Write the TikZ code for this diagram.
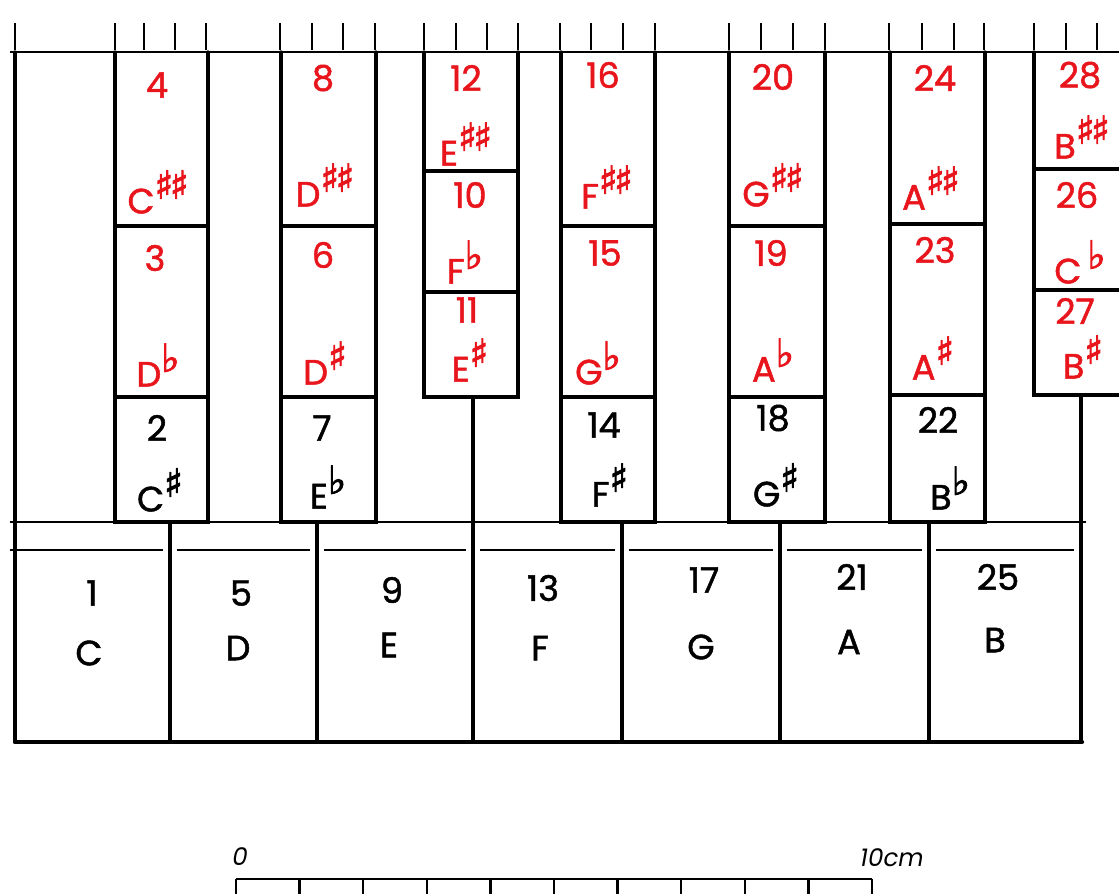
\documentclass[tikz,border=0pt]{standalone}
\usepackage{fontspec}
\setmainfont{Poppins}
\newfontfamily\notefont[FakeBold=1.4]{Poppins}
\newfontfamily\accfont[FakeBold=2.5]{DejaVu Sans}
\usetikzlibrary{positioning}
\definecolor{notered}{RGB}{232,22,28}
\newcommand{\acc}[1]{\raisebox{0.42em}{\accfont\fontsize{22}{22}\selectfont #1}}
\newcommand{\shp}{\acc{♯}}
\newcommand{\dshp}{\acc{♯\kern-2pt♯}}
\newcommand{\flt}{\acc{♭}}

\begin{document}
\begin{tikzpicture}[x=0.02cm,y=-0.02cm,
  keyline/.style={line width=1.9pt,line cap=round},
  thinline/.style={line width=1.1pt},
  tickline/.style={line width=1.4pt},
  rednote/.style={text=notered,inner sep=0pt,font=\notefont\fontsize{20}{20}\selectfont},
  blacknote/.style={text=black,inner sep=0pt,font=\notefont\fontsize{20}{20}\selectfont},
  scalelbl/.style={inner sep=0pt,font=\fontsize{14}{14}\selectfont\itshape}]
  \useasboundingbox (0,0) rectangle (1119,893);
  % top ruler
  \draw[tickline] (10,52) -- (1125,52);
  \foreach \x in {15,115,144,175,206,280,312,343,375,424,456,487,518,560,591,623,655,
                  729,761,793,825,889,922,954,984,1034,1066,1097}
    \draw[tickline] (\x,23) -- (\x,50);
  % black keys: left/right/divider/divider/bottom
  \foreach \l/\r/\p/\q/\b in {115/208/226/397/522, 281/376/226/397/522,
      424/518/171/292/397, 561/655/226/397/522, 729/825/226/397/522,
      890/985/224/395/522, 1034/1135/169/290/395}{
    \draw[keyline] (\l,52) -- (\l,\b) -- (\r,\b) -- (\r,52);
    \draw[keyline] (\l,\p) -- (\r,\p) (\l,\q) -- (\r,\q);
  }
  % white keys
  \draw[thinline] (10,522) -- (1086,522);
  \foreach \a/\b in {10/163,177/310,324/466,480/615,629/773,787/922,936/1074}
    \draw[thinline] (\a,550) -- (\b,550);
  \foreach \x/\t in {170/522,317/522,473/397,622/522,780/522,929/522,1081/395}
    \draw[keyline] (\x,\t) -- (\x,742);
  \draw[keyline] (15,52) -- (15,742);
  \draw[line width=2.4pt,line cap=round] (15,742) -- (1082,742);

  % red labels
  \foreach \n/\x/\y in {4/157/85, 3/155/258, 8/323/78, 6/323/255, 12/466/78,
      10/470/195, 11/467/310, 16/603/75, 15/605/253, 20/773/77, 19/771/253,
      24/935/78, 23/935/250, 28/1080/75, 26/1077/195, 27/1075/311}
    \node[rednote] (r\n) at (\x,\y) {\n};
  \foreach \m/\t/\x/\y in {cxx/C\dshp/158/192, db/D\flt/158/365, dxx/D\dshp/325/185,
      ds/D\shp/325/363, exx/E\dshp/466/144, fb/F\flt/465/262, es/E\shp/470/360,
      fxx/F\dshp/607/187, gb/G\flt/598/363, gxx/G\dshp/773/185, ab/A\flt/773/360,
      axx/A\dshp/931/188, as/A\shp/933/358, bxx/B\dshp/1082/137,
      cb/C\,\flt/1080/262, bs/B\shp/1083/357}
    \node[rednote] (r-\m) at (\x,\y) {\t};

  % black labels
  \foreach \n/\x/\y in {2/157/428, 7/322/428, 14/604/425, 18/773/418, 22/938/420}
    \node[blacknote] (k\n) at (\x,\y) {\n};
  \foreach \m/\t/\x/\y in {cs/C\shp/160/490, eb/E\flt/328/487, fs/F\shp/610/485,
      gs/G\shp/776/485, bb/B\flt/950/488}
    \node[blacknote] (k-\m) at (\x,\y) {\t};

  % white keys labels
  \foreach \n/\l/\x/\y/\v in {1/C/92/593/653, 5/D/241/593/648, 9/E/392/590/645,
      13/F/543/588/648, 17/G/704/580/647, 21/A/852/577/642, 25/B/998/577/640}{
    \node[blacknote] (w\n) at (\x,\y) {\n};
    \node[blacknote] (w-\l) at (\x-3,\v) {\l};
  }

  % scale bar
  \draw[tickline] (236,879) -- (872,879);
  \foreach \i in {0,...,10}
    \draw[tickline] (236+63.6*\i,879) -- (236+63.6*\i,898);
  \node[scalelbl] (s0) at (240,857) {0};
  \node[scalelbl] (s10) at (892,858) {10cm};
\end{tikzpicture}
\end{document}
